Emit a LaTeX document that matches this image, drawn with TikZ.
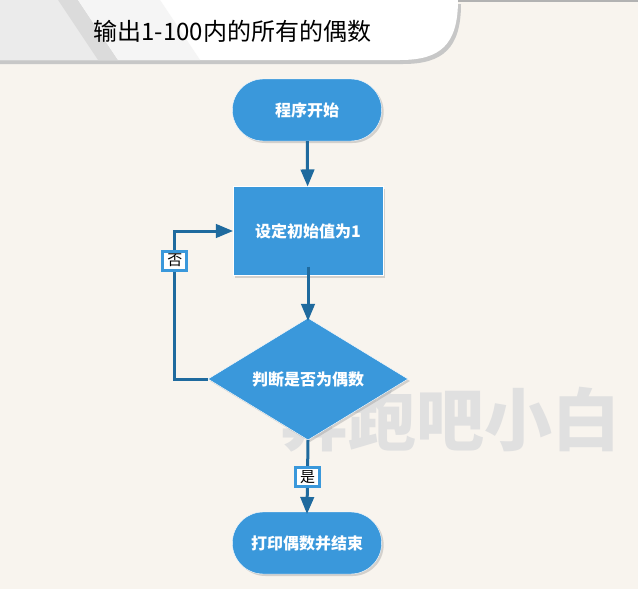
\documentclass[tikz,border=0pt]{standalone}
\usepackage{fontspec}
\setmainfont{Noto Sans CJK SC}
\usetikzlibrary{shapes, arrows, positioning, shadows}
\definecolor{bgcol}{HTML}{F8F4EE}
\definecolor{nodecol}{HTML}{3A98DB}
\definecolor{linecol}{HTML}{1F6A9E}
\tikzstyle{pill} = [draw=white, fill=nodecol, rounded rectangle,
    minimum height=62pt, minimum width=156pt, text=white, font=\bfseries\fontsize{16}{18}\selectfont,
    drop shadow={shadow xshift=2pt, shadow yshift=-2pt, opacity=0.3}]
\tikzstyle{block} = [draw=white, fill=nodecol, rectangle,
    minimum height=89pt, minimum width=150pt, text=white, font=\bfseries\fontsize{16}{18}\selectfont,
    drop shadow={shadow xshift=2pt, shadow yshift=-2pt, opacity=0.3}]
\tikzstyle{decision} = [draw=white, fill=nodecol, diamond, aspect=1.64,
    minimum height=122pt, minimum width=200pt, inner sep=0pt, text=white, font=\bfseries\fontsize{16}{18}\selectfont,
    drop shadow={shadow xshift=2pt, shadow yshift=-2pt, opacity=0.3}]
\tikzstyle{flow} = [draw=linecol, line width=3pt, -triangle 45]
\tikzstyle{tag} = [draw=nodecol, fill=white, inner sep=3pt, minimum width=24pt, font=\fontsize{15}{17}\selectfont]
\begin{document}
\begin{tikzpicture}[x=1pt, y=-1pt]
    \fill[bgcol] (0,0) rectangle (638,589);
    % header
    \fill[black!22] (0,4) -- (461,4) .. controls (461,48) and (443,64) .. (403,64) -- (0,64) -- cycle;
    \fill[white] (0,0) -- (458,0) .. controls (458,45) and (440,60) .. (400,60) -- (0,60) -- cycle;
    \fill[black!8] (0,0) -- (58,0) -- (118,60) -- (0,60) -- cycle;
    \fill[black!14] (58,0) -- (78,0) -- (118,60) -- (98,60) -- cycle;
    \fill[black!4] (78,0) -- (160,0) -- (200,60) -- (118,60) -- cycle;
    \fill[black!30] (458,0) rectangle (638,2);
    \node[font=\fontsize{24}{28}\selectfont, anchor=west] (title) at (90,31) {输出1-100内的所有的偶数};
    % watermark
    \node[text=black!12, font=\bfseries\fontsize{68}{72}\selectfont] (mark) at (450,420) {奔跑吧小白};

    \node[pill] (start) at (307,110) {程序开始};
    \node[block] (init) at (308,231) {设定初始值为1};
    \node[decision] (check) at (308,379) {判断是否为偶数};
    \node[pill] (finish) at (307,543) {打印偶数并结束};

    \draw[flow] (start) -- (init);
    \draw[flow] ([yshift=9pt]init.south) -- ([yshift=-3pt]check.north);
    \draw[flow] (check.south) -- node[tag] {是} ([yshift=-2pt]finish.north);
    \draw[flow] (check.west) -- ++(-33,0) |- node[tag, pos=0.4] {否} (init.west);
\end{tikzpicture}
\end{document}
